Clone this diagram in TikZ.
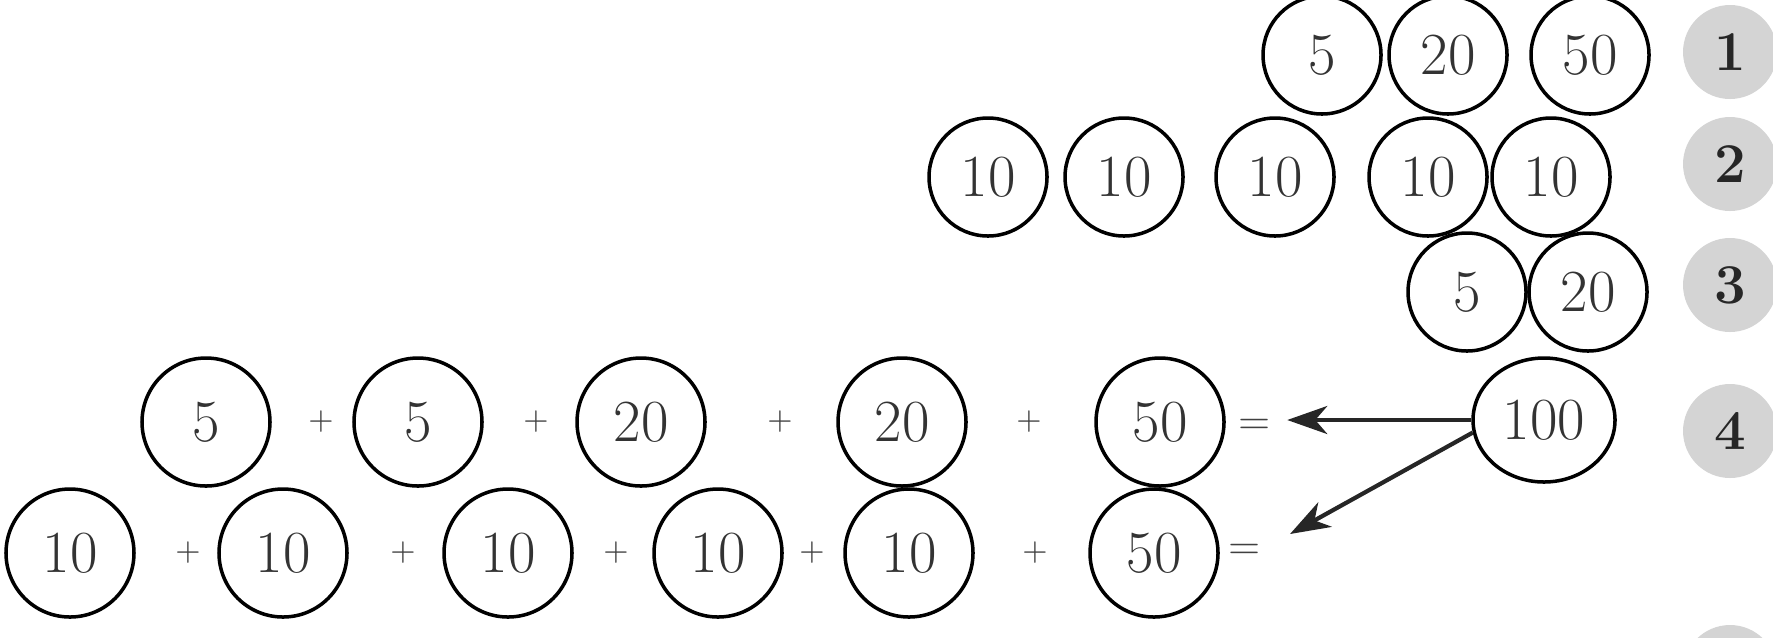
\documentclass[tikz,border=0pt]{standalone}
\usepackage{tikz}
\usetikzlibrary{positioning,arrows.meta,shapes.geometric}

\begin{document}
\begin{tikzpicture}[
  coin/.style={
    draw, circle, line width=1pt,
    minimum size=1.18cm,
    inner sep=0pt,  % size is fixed, text sits in the middle
    font=\fontsize{17}{20}\selectfont, text=black!80
  },
  bigcoin/.style={coin, minimum size=1.28cm},
  widecoin/.style={coin, ellipse, minimum width=1.42cm, minimum height=1.24cm},
  badge/.style={circle, fill=black!17, minimum size=0.94cm, inner sep=0pt,
    font=\bfseries\fontsize{16}{18}\selectfont, text=black!85},
  op/.style={font=\fontsize{9}{10}\selectfont, text=black!75, inner sep=0pt},
  eqsign/.style={op, font=\fontsize{12}{14}\selectfont},
  pay/.style={-{Stealth[length=4mm,width=2.8mm,inset=1.2mm]}, line width=1.2pt, black!85}
]
\useasboundingbox (0,0) rectangle (17.73,-6.37);
\clip (0,0) rectangle (17.73,-6.37);

% --- step badges ---
\foreach \n/\y in {1/0.52, 2/1.64, 3/2.85, 4/4.31} {
  \node[badge] (badge\n) at (17.30,-\y) {\n};
}
\node[badge] (badge5) at (17.30,-6.72) {};

% --- row 1 ---
\foreach \v/\x [count=\i] in {5/13.22, 20/14.48, 50/15.90} {
  \node[coin] (a\i) at (\x,-0.55) {\v};
}

% --- row 2 ---
\foreach \x [count=\i] in {9.88, 11.24, 12.75, 14.28, 15.51} {
  \node[coin] (b\i) at (\x,-1.77) {10};
}

% --- row 3 ---
\foreach \v/\x [count=\i] in {5/14.67, 20/15.88} {
  \node[coin] (c\i) at (\x,-2.92) {\v};
}

% --- row 4 ---
\node[widecoin] (hundred) at (15.44,-4.20) {100};

% --- first sum ---
\foreach \v/\x [count=\i] in {5/2.06, 5/4.18, 20/6.41, 20/9.02, 50/11.60} {
  \node[bigcoin] (p\i) at (\x,-4.22) {\v};
}
\foreach \x [count=\i] in {3.21, 5.36, 7.80, 10.29} {
  \node[op] (pplus\i) at (\x,-4.22) {+};
}
\node[eqsign] (peq) at (12.55,-4.27) {=};

% --- second sum ---
\foreach \v/\x [count=\i] in {10/0.70, 10/2.83, 10/5.08, 10/7.18, 10/9.09, 50/11.54} {
  \node[bigcoin] (q\i) at (\x,-5.53) {\v};
}
\foreach \x [count=\i] in {1.88, 4.03, 6.16, 8.12, 10.35} {
  \node[op] (qplus\i) at (\x,-5.53) {+};
}
\node[eqsign] (qeq) at (12.45,-5.52) {=};

% --- change for the 100 ---
\coordinate[left=1.84cm of hundred.west] (tipa);
\coordinate (tipb) at (12.90,-5.34);
\draw[pay] (hundred.west) -- (tipa);
\draw[pay] (hundred.190) -- (tipb);
\end{tikzpicture}
\end{document}
